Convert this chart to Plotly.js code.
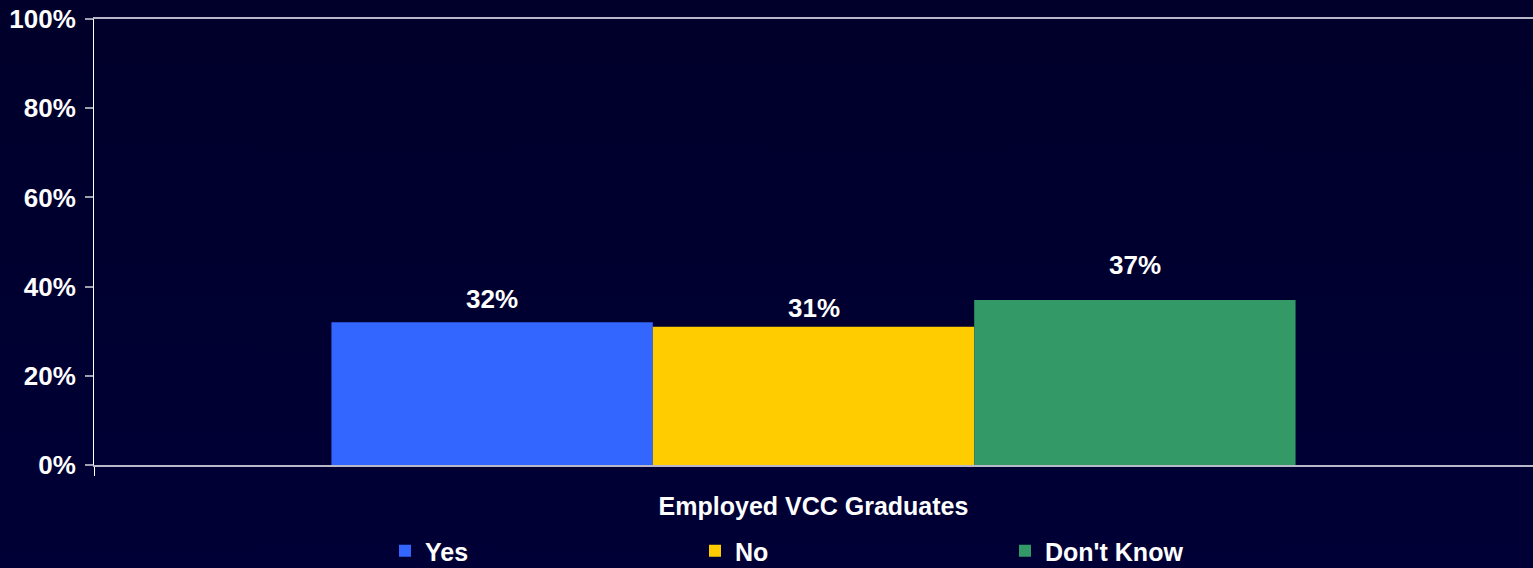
<!DOCTYPE html>
<html>
<head>
<meta charset="utf-8">
<script src="https://cdn.plot.ly/plotly-3.0.1.min.js"></script>
<style>
  html, body { margin: 0; padding: 0; }
  body { background: linear-gradient(to bottom, #00002a 0%, #000036 100%); }
  #chart { width: 1533px; height: 568px; }
</style>
</head>
<body>
<div id="chart"></div>
<script>
const categories = ["Employed VCC Graduates"];
const seriesNames = ["Yes", "No", "Don't Know"];
const yesValues = [0.32];
const noValues = [0.31];
const dontKnowValues = [0.37];
const seriesColors = ["#3366FF", "#FFCC00", "#339966"];
const yTickVals = [0, 0.2, 0.4, 0.6, 0.8, 1.0];

const allValues = [yesValues, noValues, dontKnowValues];
const labelShifts = [6, 2, 18];   // pixel lift of each series' value label (style only)
const bargap = 0.33;
const FONT = "Liberation Sans, Arial, sans-serif";

const traces = allValues.map((vals, i) => ({
  type: "bar",
  name: seriesNames[i],
  x: categories,
  y: vals,
  marker: { color: seriesColors[i], line: { width: 0 } },
  hoverinfo: "skip"
}));

const annotations = [];
allValues.forEach((vals, i) => {
  const w = (1 - bargap) / allValues.length;
  vals.forEach((v, j) => {
    annotations.push({
      xref: "x", yref: "y",
      x: j + (i - (allValues.length - 1) / 2) * w,
      y: v,
      text: Math.round(v * 100) + "%",
      showarrow: false,
      yanchor: "bottom",
      yshift: labelShifts[i],
      font: { family: FONT, size: 26, color: "#ffffff", weight: "bold" }
    });
  });
});

const layout = {
  width: 1533, height: 568,
  margin: { l: 94, r: 0, t: 19, b: 103, pad: 0, autoexpand: false },
  paper_bgcolor: "rgba(0,0,0,0)",
  plot_bgcolor: "rgba(0,0,0,0)",
  barmode: "group",
  bargap: bargap,
  bargroupgap: 0,
  font: { family: FONT, color: "#ffffff", weight: "bold" },
  xaxis: {
    type: "category",
    automargin: false,
    showline: true, linecolor: "#b8b8c8", linewidth: 2,
    mirror: true,
    ticks: "outside", tickson: "boundaries", ticklen: 9, tickcolor: "#ffffff", tickwidth: 1,
    ticklabelstandoff: 18,
    tickfont: { family: FONT, size: 25, color: "#ffffff", weight: "bold" },
    showgrid: false, zeroline: false, fixedrange: true
  },
  yaxis: {
    range: [0, 1],
    automargin: false,
    tickvals: yTickVals,
    tickformat: ".0%",
    showline: true, linecolor: "#ffffff", linewidth: 1,
    ticks: "outside", ticklen: 8, tickcolor: "#a0a0b0", tickwidth: 2,
    ticklabelstandoff: 4,
    tickfont: { family: FONT, size: 26, color: "#ffffff", weight: "bold" },
    showgrid: false, zeroline: false, fixedrange: true
  },
  showlegend: true,
  legend: {
    orientation: "h",
    xref: "paper", yref: "container",
    x: (385 - 94) / 1439, xanchor: "left",
    y: 1 - 551 / 568, yanchor: "middle",
    entrywidth: 265, entrywidthmode: "pixels",
    itemwidth: 30,
    bgcolor: "rgba(0,0,0,0)",
    font: { family: FONT, size: 25, color: "#ffffff", weight: "bold" },
    traceorder: "normal"
  },
  annotations: annotations
};

Plotly.newPlot("chart", traces, layout, { displayModeBar: false, staticPlot: true });
</script>
</body>
</html>
